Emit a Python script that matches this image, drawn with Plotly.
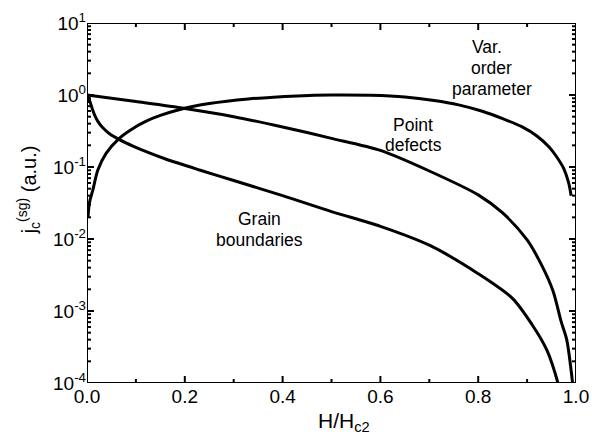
import plotly.graph_objects as go

# H/Hc2 and normalised critical current for each pinning mechanism
h_grain = [0, 0.005, 0.0106, 0.0154, 0.0222, 0.0324, 0.046, 0.0665, 0.094, 0.121,
           0.162, 0.23, 0.3, 0.4, 0.5, 0.6, 0.7, 0.8, 0.87, 0.91, 0.94, 0.963, 0.97]
jc_grain = [1.0, 0.85, 0.65, 0.53, 0.43, 0.35, 0.29, 0.24, 0.195, 0.163,
            0.128, 0.091, 0.065, 0.040, 0.024, 0.015, 0.0082, 0.0033, 0.0015,
            6.5e-4, 2.9e-4, 1.0e-4, 6e-5]

h_point = [0, 0.1, 0.2, 0.3, 0.4, 0.5, 0.6, 0.7, 0.8, 0.85, 0.9, 0.93, 0.953,
           0.97, 0.981, 0.993, 0.997]
jc_point = [1.0, 0.81, 0.65, 0.50, 0.36, 0.25, 0.17, 0.088, 0.041, 0.023, 0.0097,
            0.0043, 0.0019, 7e-4, 4e-4, 1e-4, 5e-5]

h_order = [0.002, 0.005, 0.012, 0.022, 0.039, 0.066, 0.09, 0.12, 0.15, 0.19, 0.25,
           0.33, 0.43, 0.5, 0.58, 0.65, 0.71, 0.76, 0.81, 0.85, 0.89, 0.92, 0.945,
           0.96, 0.975, 0.985, 0.99]
jc_order = [0.020, 0.032, 0.048, 0.09, 0.155, 0.25, 0.33, 0.43, 0.52, 0.63, 0.76,
            0.88, 0.97, 1.0, 0.99, 0.94, 0.84, 0.73, 0.59, 0.47, 0.36, 0.27, 0.19,
            0.14, 0.095, 0.06, 0.04]

x_tick_vals = [0, 0.2, 0.4, 0.6, 0.8, 1.0]
x_minor_vals = [0.1, 0.3, 0.5, 0.7, 0.9]
y_tick_vals = [1e-4, 1e-3, 1e-2, 1e-1, 1e0, 1e1]
y_tick_text = ["10<sup>-4</sup>", "10<sup>-3</sup>", "10<sup>-2</sup>",
               "10<sup>-1</sup>", "10<sup>0</sup>", "10<sup>1</sup>"]

curve_labels = [
    ("Var.", 0.817, 0.933),
    ("order", 0.827, 0.875),
    ("parameter", 0.828, 0.818),
    ("Point", 0.666, 0.717),
    ("defects", 0.667, 0.661),
    ("Grain", 0.353, 0.456),
    ("boundaries", 0.353, 0.397),
]

FONT = "Liberation Sans, Arial, sans-serif"
W, H = 592, 435
M_L, M_R, M_T, M_B = 87, 16, 23, 52
X_RANGE = [0.0, 1.0]
Y_RANGE = [-4, 1]  # decades
PLOT_W = W - M_L - M_R
PLOT_H = H - M_T - M_B
MAJOR_LEN, MINOR_LEN = 7, 4  # px

fig = go.Figure()
for xs, ys in [(h_grain, jc_grain), (h_point, jc_point), (h_order, jc_order)]:
    fig.add_trace(go.Scatter(
        x=xs, y=ys, mode="lines",
        line=dict(color="black", width=3, shape="spline", smoothing=0.8),
        showlegend=False, hoverinfo="skip",
    ))

# box frame and inward tick marks, expressed in axis units
x_lo, x_hi = X_RANGE
y_lo, y_hi = 10.0 ** Y_RANGE[0], 10.0 ** Y_RANGE[1]
px_x = (x_hi - x_lo) / PLOT_W                # x units per pixel
px_dec = (Y_RANGE[1] - Y_RANGE[0]) / PLOT_H  # decades per pixel

fx, fy = [], []
for xv, ln in [(v, MAJOR_LEN) for v in x_tick_vals] + [(v, MINOR_LEN) for v in x_minor_vals]:
    fx += [xv, xv, None, xv, xv, None]
    fy += [y_lo, y_lo * 10 ** (ln * px_dec), None, y_hi, y_hi / 10 ** (ln * px_dec), None]
y_minor_vals = [k * 10.0 ** d for d in range(-4, 1) for k in range(2, 10)]
for yv, ln in [(v, MAJOR_LEN) for v in y_tick_vals] + [(v, MINOR_LEN) for v in y_minor_vals]:
    fx += [x_lo, x_lo + ln * px_x, None, x_hi, x_hi - ln * px_x, None]
    fy += [yv, yv, None, yv, yv, None]
fig.add_trace(go.Scatter(x=fx, y=fy, mode="lines", line=dict(color="black", width=2),
                         showlegend=False, hoverinfo="skip", cliponaxis=False))
fig.add_trace(go.Scatter(x=[x_lo, x_hi, x_hi, x_lo, x_lo], y=[y_lo, y_lo, y_hi, y_hi, y_lo],
                         mode="lines", line=dict(color="black", width=2),
                         showlegend=False, hoverinfo="skip", cliponaxis=False))

fig.update_xaxes(
    range=X_RANGE, tickmode="array", tickvals=x_tick_vals, tickformat=".1f",
    ticks="", showline=False, showgrid=False, zeroline=False, automargin=False,
    tickfont=dict(family=FONT, size=19, color="black"),
)
fig.update_yaxes(
    type="log", range=Y_RANGE, tickmode="array",
    tickvals=y_tick_vals, ticktext=y_tick_text,
    ticks="", showline=False, showgrid=False, zeroline=False, automargin=False,
    tickfont=dict(family=FONT, size=19, color="black"),
)

annotations = []
for text, x, y in curve_labels:
    annotations.append(dict(
        text=text, x=x, y=y, xref="x", yref="paper", showarrow=False,
        xanchor="center", yanchor="middle",
        font=dict(family=FONT, size=17.5, color="black"),
    ))
annotations.append(dict(
    text="j<sub>c</sub><sup>(sg)</sup> (a.u.)", textangle=-90,
    x=-0.12, y=0.536, xref="paper", yref="paper", showarrow=False,
    xanchor="center", yanchor="middle",
    font=dict(family=FONT, size=20, color="black"),
))
annotations.append(dict(
    text="H/H<sub>c2</sub>", x=0.526, y=-0.068, xref="paper", yref="paper",
    showarrow=False, xanchor="center", yanchor="top",
    font=dict(family=FONT, size=21, color="black"),
))

fig.update_layout(
    width=W, height=H, autosize=False,
    margin=dict(l=M_L, r=M_R, t=M_T, b=M_B, autoexpand=False),
    paper_bgcolor="white", plot_bgcolor="white",
    annotations=annotations,
)

fig.write_html("out.html")
